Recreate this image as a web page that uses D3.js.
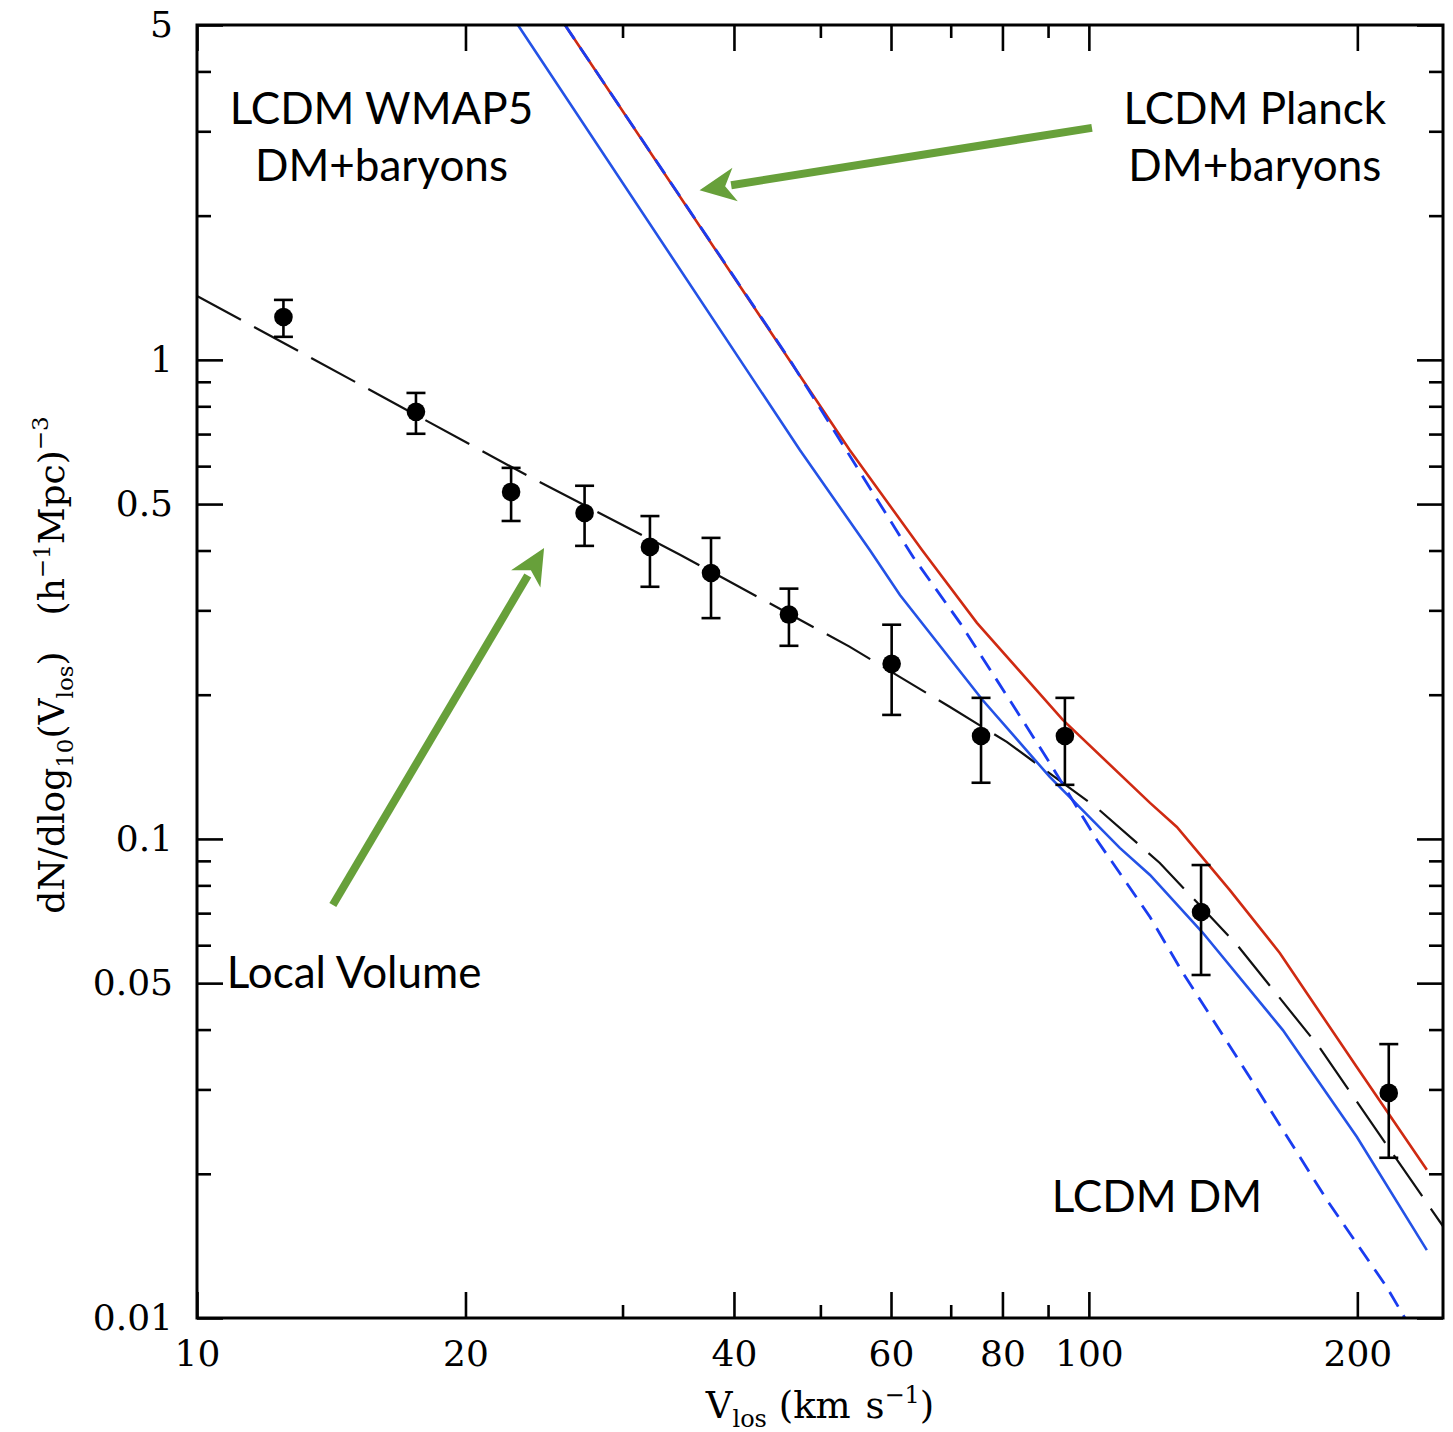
<!DOCTYPE html>
<html>
<head>
<meta charset="utf-8">
<script src="https://cdn.jsdelivr.net/npm/d3@7"></script>
<style>
  html, body { margin: 0; padding: 0; background: #fff; }
  svg { display: block; }
</style>
</head>
<body>
<svg id="chart" width="1453" height="1432"></svg>
<script>
// ---------------- DATA ----------------
// Local Volume observed velocity function (points with error bars)
const lvV  = [12.5, 17.6, 22.5, 27.2, 32.2, 37.7, 46.1, 60.1, 75.7, 94.0, 133.6, 216.9];
const lvN  = [1.229, 0.779, 0.530, 0.479, 0.407, 0.359, 0.294, 0.232, 0.164, 0.164, 0.0704, 0.0295];
const lvLo = [1.117, 0.701, 0.461, 0.409, 0.336, 0.289, 0.253, 0.1815, 0.131, 0.1297, 0.052, 0.0216];
const lvHi = [1.334, 0.853, 0.595, 0.546, 0.472, 0.425, 0.333, 0.280, 0.197, 0.197, 0.0882, 0.0373];

// Fit to the Local Volume (black long-dashed)
const fitV = [10, 23.6, 34.8, 53.9, 69.8, 80.9, 102.1, 120.1, 146.6, 181.6, 221.5, 249.4];
const fitN = [1.36, 0.570, 0.392, 0.252, 0.1887, 0.1594, 0.1161, 0.0891, 0.0601, 0.0366, 0.0214, 0.01556];

// LCDM Planck DM+baryons (red solid)
const planckV = [25.86, 53.9, 65.0, 74.9, 93.5, 117.1, 125.5, 143.9, 163.7, 175.5, 199.7, 239.3];
const planckN = [5.0, 0.649, 0.401, 0.2825, 0.1772, 0.1189, 0.1059, 0.0782, 0.0578, 0.0477, 0.0334, 0.0204];

// LCDM WMAP5 DM+baryons (blue solid)
const wmapV = [22.9, 47.4, 56.8, 61.4, 76.0, 90.4, 108.3, 117.1, 134.2, 165.0, 199.7, 239.3];
const wmapN = [5.0, 0.649, 0.401, 0.323, 0.195, 0.1347, 0.0958, 0.0841, 0.0637, 0.0399, 0.0239, 0.01386];

// LCDM DM only (blue short-dashed)
const dmV = [25.86, 46.2, 63.5, 71.7, 81.5, 90.4, 102.1, 117.1, 127.5, 151.5, 184.9, 215.8, 226.1];
const dmN = [5.0, 1.0, 0.388, 0.2825, 0.195, 0.1441, 0.0995, 0.0687, 0.0525, 0.0318, 0.01763, 0.0116, 0.0100];

// Axis ticks
const xMajor = [10, 20, 40, 60, 80, 100, 200];
const xMinor = [30, 50, 70, 90];
const yMajor = [0.01, 0.05, 0.1, 0.5, 1, 5];
const yMinor = [0.02, 0.03, 0.04, 0.06, 0.07, 0.08, 0.09, 0.2, 0.3, 0.4, 0.6, 0.7, 0.8, 0.9, 2, 3, 4];
const xTickLabels = ["10", "20", "40", "60", "80", "100", "200"];
const yTickLabels = ["0.01", "0.05", "0.1", "0.5", "1", "5"];

// Annotations (data coordinates)
const textLabels = [
  {lines: ["LCDM WMAP5", "DM+baryons"], v: 16.1, n: 3.1},
  {lines: ["LCDM Planck", "DM+baryons"], v: 153.5, n: 3.1},
  {lines: ["Local Volume"], v: 10.8, n: 0.0489, anchor: "start"},
  {lines: ["LCDM DM"], v: 119.2, n: 0.01665}
];
const arrows = [
  {from: [100.8, 3.05], to: [36.6, 2.26]},
  {from: [14.2, 0.0728], to: [24.5, 0.405]}
];

// ---------------- CHART ----------------
const svg = d3.select("#chart");
const L = 197, R = 1443, T = 25, B = 1318;
const x = d3.scaleLog().domain([10, 249.5]).range([L, R]);
const y = d3.scaleLog().domain([0.01, 5]).range([B, T]);

svg.append("defs").append("clipPath").attr("id", "plotclip")
  .append("rect").attr("x", L).attr("y", T).attr("width", R - L).attr("height", B - T);

const plot = svg.append("g").attr("clip-path", "url(#plotclip)");

const line = d3.line().x(d => x(d[0])).y(d => y(d[1]));
const zip = (a, b) => a.map((v, i) => [v, b[i]]);

plot.append("path").datum(zip(fitV, fitN)).attr("d", line)
  .attr("fill", "none").attr("stroke", "#111").attr("stroke-width", 2.2)
  .attr("stroke-dasharray", "50,15");
plot.append("path").datum(zip(wmapV, wmapN)).attr("d", line)
  .attr("fill", "none").attr("stroke", "#2452e6").attr("stroke-width", 2.6);
plot.append("path").datum(zip(planckV, planckN)).attr("d", line)
  .attr("fill", "none").attr("stroke", "#cf2a12").attr("stroke-width", 2.6);
plot.append("path").datum(zip(dmV, dmN)).attr("d", line)
  .attr("fill", "none").attr("stroke", "#1a3cf0").attr("stroke-width", 2.8)
  .attr("stroke-dasharray", "17,10");

// Error bars and points
const pts = lvV.map((v, i) => ({v, n: lvN[i], lo: lvLo[i], hi: lvHi[i]}));
const eb = plot.append("g").attr("stroke", "#000").attr("stroke-width", 2.6);
pts.forEach(p => {
  eb.append("line").attr("x1", x(p.v)).attr("x2", x(p.v)).attr("y1", y(p.lo)).attr("y2", y(p.hi));
  eb.append("line").attr("x1", x(p.v) - 9.5).attr("x2", x(p.v) + 9.5).attr("y1", y(p.lo)).attr("y2", y(p.lo));
  eb.append("line").attr("x1", x(p.v) - 9.5).attr("x2", x(p.v) + 9.5).attr("y1", y(p.hi)).attr("y2", y(p.hi));
});
plot.append("g").selectAll("circle").data(pts).join("circle")
  .attr("cx", d => x(d.v)).attr("cy", d => y(d.n)).attr("r", 9.3).attr("fill", "#000");

// Arrows
const green = "#67a03a";
arrows.forEach(a => {
  const x0 = x(a.from[0]), y0 = y(a.from[1]), x1 = x(a.to[0]), y1 = y(a.to[1]);
  const dx = x1 - x0, dy = y1 - y0, len = Math.hypot(dx, dy);
  const ux = dx / len, uy = dy / len, px = -uy, py = ux;
  const hl = 36, hw = 17;
  const bx = x1 - ux * hl, by = y1 - uy * hl;
  svg.append("line").attr("x1", x0).attr("y1", y0).attr("x2", bx + ux * 4).attr("y2", by + uy * 4)
    .attr("stroke", green).attr("stroke-width", 8);
  const nx = x1 - ux * hl * 0.72, ny = y1 - uy * hl * 0.72;
  svg.append("path")
    .attr("d", `M${x1},${y1} L${bx + px * hw},${by + py * hw} L${nx},${ny} L${bx - px * hw},${by - py * hw} Z`)
    .attr("fill", green);
});

// Text labels
textLabels.forEach(t => {
  const g = svg.append("text")
    .attr("x", x(t.v)).attr("y", y(t.n))
    .attr("text-anchor", t.anchor || "middle")
    .attr("font-family", "Lato, 'Open Sans', sans-serif")
    .attr("font-size", 44).attr("fill", "#000");
  t.lines.forEach((s, i) => {
    g.append("tspan").attr("x", x(t.v)).attr("dy", i === 0 ? 0 : 57).text(s);
  });
});

// Axes
const serif = "'DejaVu Serif', 'Liberation Serif', serif";
function styleAxis(g) {
  g.select(".domain").remove();
  g.selectAll("line").attr("stroke", "#000").attr("stroke-width", 2.6);
  g.selectAll("text").attr("font-family", serif).attr("font-size", 36).attr("fill", "#000");
}
// bottom
svg.append("g").attr("transform", `translate(0,${B})`)
  .call(d3.axisBottom(x).tickValues(xMajor).tickSize(-26).tickPadding(22)
        .tickFormat((d, i) => xTickLabels[i])).call(styleAxis);
svg.append("g").attr("transform", `translate(0,${B})`)
  .call(d3.axisBottom(x).tickValues(xMinor).tickSize(-13).tickFormat("")).call(styleAxis);
// top
svg.append("g").attr("transform", `translate(0,${T})`)
  .call(d3.axisTop(x).tickValues(xMajor).tickSize(-26).tickFormat("")).call(styleAxis);
svg.append("g").attr("transform", `translate(0,${T})`)
  .call(d3.axisTop(x).tickValues(xMinor).tickSize(-13).tickFormat("")).call(styleAxis);
// left
svg.append("g").attr("transform", `translate(${L},0)`)
  .call(d3.axisLeft(y).tickValues(yMajor).tickSize(-26).tickPadding(24)
        .tickFormat((d, i) => yTickLabels[i])).call(styleAxis);
svg.append("g").attr("transform", `translate(${L},0)`)
  .call(d3.axisLeft(y).tickValues(yMinor).tickSize(-14).tickFormat("")).call(styleAxis);
// right
svg.append("g").attr("transform", `translate(${R},0)`)
  .call(d3.axisRight(y).tickValues(yMajor).tickSize(-26).tickFormat("")).call(styleAxis);
svg.append("g").attr("transform", `translate(${R},0)`)
  .call(d3.axisRight(y).tickValues(yMinor).tickSize(-14).tickFormat("")).call(styleAxis);

// Frame
svg.append("rect").attr("x", L).attr("y", T).attr("width", R - L).attr("height", B - T)
  .attr("fill", "none").attr("stroke", "#000").attr("stroke-width", 3);

// Axis titles
const xt = svg.append("text").attr("x", 820).attr("y", 1418).attr("text-anchor", "middle")
  .attr("font-family", serif).attr("font-size", 37).attr("fill", "#000");
xt.append("tspan").text("V");
xt.append("tspan").attr("font-size", 24).attr("dy", 9).text("los");
xt.append("tspan").attr("dy", -9).text(" (km\u2009\u2009s");
xt.append("tspan").attr("font-size", 24).attr("dy", -15).text("\u22121");
xt.append("tspan").attr("dy", 15).text(")");

const yt = svg.append("text").attr("transform", "translate(64,665) rotate(-90)")
  .attr("text-anchor", "middle")
  .attr("font-family", serif).attr("font-size", 36).attr("fill", "#000");
yt.append("tspan").text("dN/dlog");
yt.append("tspan").attr("font-size", 23).attr("dy", 9).text("10");
yt.append("tspan").attr("dy", -9).text("(V");
yt.append("tspan").attr("font-size", 23).attr("dy", 9).text("los");
yt.append("tspan").attr("dy", -9).text(")\u2002\u2002(h");
yt.append("tspan").attr("font-size", 23).attr("dy", -14).text("\u22121");
yt.append("tspan").attr("dy", 14).text("Mpc)");
yt.append("tspan").attr("font-size", 23).attr("dy", -16).text("\u22123");
</script>
</body>
</html>
